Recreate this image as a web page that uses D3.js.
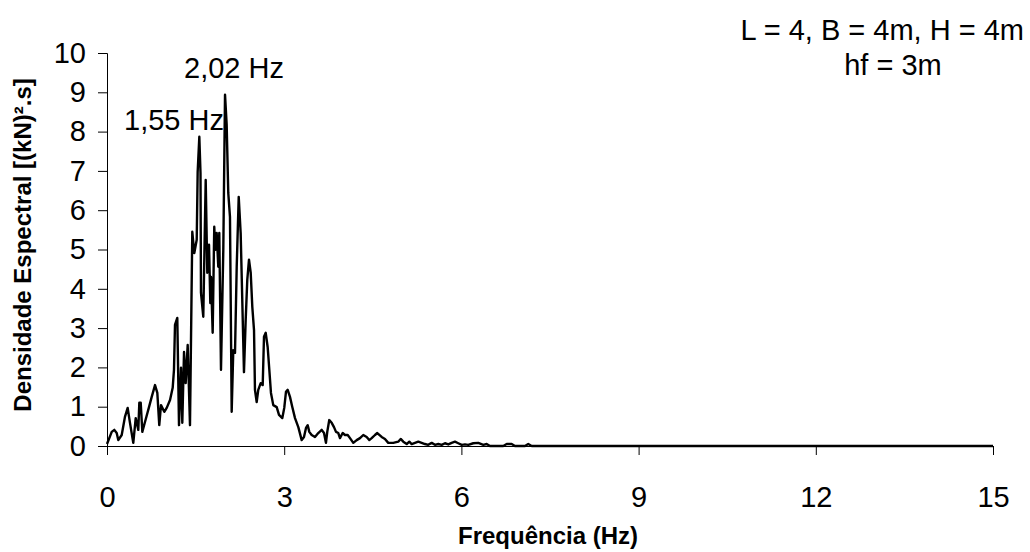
<!DOCTYPE html>
<html>
<head>
<meta charset="utf-8">
<script src="https://cdn.jsdelivr.net/npm/d3@7"></script>
<style>
  body { margin: 0; background: #fff; }
  text { font-family: "Liberation Sans", Arial, sans-serif; fill: #000; }
</style>
</head>
<body>
<div class="chart"></div>
<script>
// frequency (Hz)
var freq = [0.00, 0.080, 0.124, 0.164, 0.191, 0.249, 0.305, 0.350, 0.389, 0.445,
    0.486, 0.530, 0.547, 0.571, 0.598, 0.643, 0.711, 0.757, 0.813, 0.852,
    0.885, 0.914, 0.970, 1.011, 1.067, 1.112, 1.134, 1.151, 1.190, 1.219,
    1.253, 1.275, 1.304, 1.332, 1.366, 1.405, 1.444, 1.478, 1.519, 1.535,
    1.563, 1.583, 1.591, 1.630, 1.671, 1.698, 1.727, 1.749, 1.761, 1.789,
    1.816, 1.833, 1.857, 1.884, 1.901, 1.930, 1.969, 1.998, 2.026, 2.053,
    2.082, 2.111, 2.138, 2.167, 2.196, 2.230, 2.263, 2.290, 2.319, 2.348,
    2.375, 2.404, 2.433, 2.460, 2.489, 2.505, 2.534, 2.561, 2.602, 2.636,
    2.658, 2.687, 2.720, 2.748, 2.776, 2.815, 2.873, 2.912, 2.968, 3.001,
    3.030, 3.059, 3.098, 3.137, 3.183, 3.239, 3.296, 3.335, 3.369, 3.398,
    3.425, 3.465, 3.521, 3.577, 3.635, 3.674, 3.707, 3.729, 3.763, 3.804,
    3.843, 3.877, 3.916, 3.944, 3.990, 4.029, 4.075, 4.114, 4.170, 4.227,
    4.283, 4.339, 4.396, 4.440, 4.481, 4.537, 4.576, 4.650, 4.706, 4.762,
    4.847, 4.931, 4.972, 5.016, 5.074, 5.118, 5.158, 5.214, 5.270, 5.327,
    5.383, 5.439, 5.497, 5.553, 5.609, 5.666, 5.722, 5.778, 5.835, 5.891,
    5.947, 6.005, 6.061, 6.116, 6.201, 6.286, 6.371, 6.428, 6.484, 6.709,
    6.767, 6.851, 6.907, 7.076, 7.132, 7.190, 15.0];

// spectral density [(kN)².s]
var dens = [0.05, 0.36, 0.41, 0.33, 0.15, 0.28, 0.75, 0.97, 0.59, 0.08,
    0.71, 0.41, 1.10, 1.10, 0.36, 0.61, 0.99, 1.25, 1.55, 1.35,
    0.53, 1.04, 0.87, 0.97, 1.17, 1.48, 1.94, 3.08, 3.26, 0.53,
    1.99, 0.59, 2.39, 1.60, 2.57, 0.53, 5.45, 4.91, 5.25, 6.98,
    7.87, 6.95, 3.90, 3.29, 6.77, 4.41, 5.12, 3.64, 4.30, 2.88,
    5.58, 4.99, 5.42, 4.56, 5.42, 1.94, 4.99, 8.94, 8.17, 6.44,
    5.83, 0.87, 2.44, 2.37, 4.56, 6.34, 5.42, 3.72, 1.88, 3.21,
    4.23, 4.74, 4.41, 3.54, 2.95, 1.43, 1.12, 1.43, 1.60, 1.55,
    2.78, 2.88, 2.52, 1.94, 1.35, 1.04, 0.99, 0.79, 0.71, 0.97,
    1.38, 1.43, 1.25, 0.99, 0.71, 0.48, 0.15, 0.23, 0.46, 0.53,
    0.36, 0.28, 0.23, 0.33, 0.41, 0.33, 0.08, 0.36, 0.66, 0.59,
    0.48, 0.36, 0.33, 0.20, 0.33, 0.28, 0.28, 0.20, 0.08, 0.15,
    0.20, 0.28, 0.23, 0.15, 0.20, 0.28, 0.33, 0.23, 0.18, 0.08,
    0.08, 0.11, 0.18, 0.11, 0.05, 0.11, 0.05, 0.08, 0.11, 0.08,
    0.05, 0.03, 0.08, 0.03, 0.05, 0.03, 0.07, 0.04, 0.08, 0.11,
    0.07, 0.03, 0.04, 0.03, 0.07, 0.08, 0.03, 0.05, 0.00, 0.00,
    0.05, 0.05, 0.00, 0.00, 0.05, 0.00, 0.00];

// axis ticks
var xTicks = [0, 3, 6, 9, 12, 15];
var yTicks = [0, 1, 2, 3, 4, 5, 6, 7, 8, 9, 10];

// peak labels and case description
var peakLabels = ["1,55 Hz", "2,02 Hz"];
var caseLines = ["L = 4, B = 4m, H = 4m", "hf = 3m"];

var width = 1030,
    height = 552;

var svg = d3.select(".chart")
            .append("svg")
            .attr("width", width)
            .attr("height", height);

// scales
var x = d3.scaleLinear()
    .domain([0, 15])
    .range([107, 993]);

var y = d3.scaleLinear()
    .domain([0, 10])
    .range([446, 53]);

// y axis
var yAxis = svg.append("g")
    .attr("transform", "translate(" + x(0) + ",0)")
    .call(d3.axisLeft(y).tickValues(yTicks).tickSize(9).tickPadding(12));

yAxis.selectAll("text")
    .style("font-size", "29px");

// x axis
var xAxis = svg.append("g")
    .attr("transform", "translate(0," + y(0) + ")")
    .call(d3.axisBottom(x).tickValues(xTicks).tickSize(9).tickPadding(31));

xAxis.selectAll("text")
    .style("font-size", "29px");

svg.selectAll(".domain, .tick line")
    .attr("stroke", "#000")
    .attr("stroke-width", 1);

// spectrum line
var points = d3.zip(freq, dens);

var line = d3.line()
    .x(function(d) { return x(d[0]); })
    .y(function(d) { return y(d[1]); });

svg.append("path")
    .datum(points)
    .attr("d", line)
    .attr("fill", "none")
    .attr("stroke", "#000")
    .attr("stroke-width", 2.4)
    .attr("stroke-linejoin", "round");

// axis titles
svg.append("text")
    .attr("x", 548)
    .attr("y", 544)
    .attr("text-anchor", "middle")
    .style("font-size", "24px")
    .style("font-weight", "bold")
    .text("Frequência (Hz)");

svg.append("text")
    .attr("transform", "translate(31,245) rotate(-90)")
    .attr("text-anchor", "middle")
    .style("font-size", "24px")
    .style("font-weight", "bold")
    .text("Densidade Espectral [(kN)².s]");

// peak annotations
svg.append("text")
    .attr("x", 124)
    .attr("y", 130)
    .style("font-size", "29px")
    .text(peakLabels[0]);

svg.append("text")
    .attr("x", 184)
    .attr("y", 78)
    .style("font-size", "29px")
    .text(peakLabels[1]);

// case description top right
svg.append("text")
    .attr("x", 1024)
    .attr("y", 40)
    .attr("text-anchor", "end")
    .style("font-size", "29px")
    .text(caseLines[0]);

svg.append("text")
    .attr("x", 893)
    .attr("y", 75)
    .attr("text-anchor", "middle")
    .style("font-size", "29px")
    .text(caseLines[1]);
</script>
</body>
</html>
